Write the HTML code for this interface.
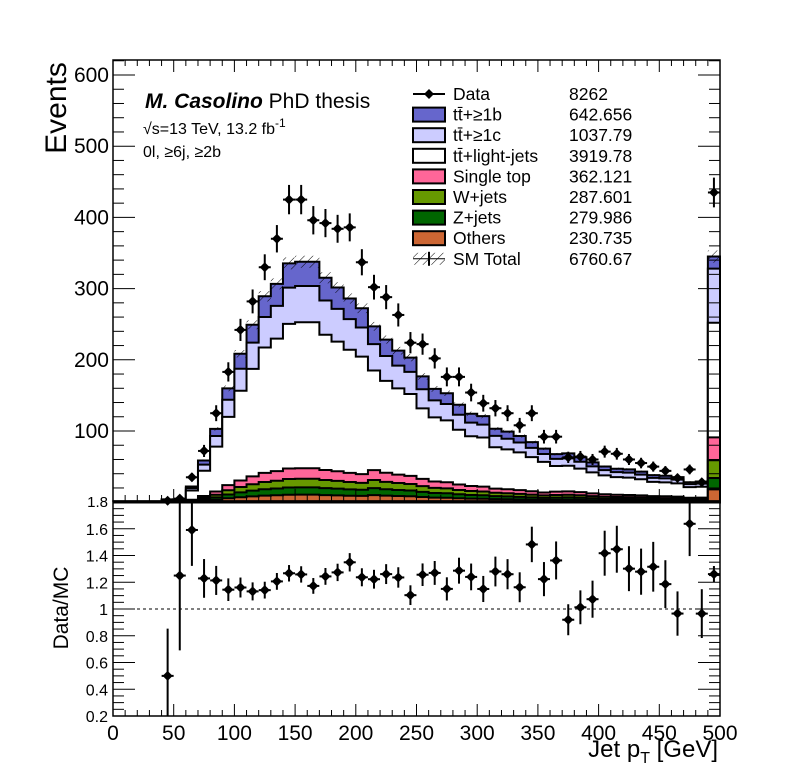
<!DOCTYPE html>
<html><head><meta charset="utf-8">
<style>
html,body{margin:0;padding:0;background:#fff;}
svg{display:block;font-family:"Liberation Sans",sans-serif;}
</style></head>
<body>
<svg id="c" width="796" height="772" viewBox="0 0 796 772">
<defs>
<pattern id="hatch" patternUnits="userSpaceOnUse" width="6" height="6" patternTransform="rotate(45)">
<line x1="0" y1="0" x2="0" y2="6" stroke="#000" stroke-width="1"/>
</pattern>
</defs>
<rect x="0" y="0" width="796" height="772" fill="#fff"/>
<g id="main"></g>
<g id="ratio"></g>
<g id="axes"></g>
<text x="145" y="108" font-size="21"><tspan font-weight="bold" font-style="italic">M. Casolino</tspan> PhD thesis</text>
<text x="143" y="134" font-size="16">√s=13 TeV, 13.2 fb<tspan dy="-7" font-size="12">-1</tspan></text>
<text x="143" y="157" font-size="16" dy="0">0l, ≥6j, ≥2b</text>
<text transform="translate(66,108) rotate(-90)" font-size="30" text-anchor="middle">Events</text>
<text transform="translate(68,608) rotate(-90)" font-size="21" text-anchor="middle">Data/MC</text>
<text x="718" y="757" font-size="24" text-anchor="end">Jet p<tspan dy="6" font-size="16">T</tspan><tspan dy="-6"> [GeV]</tspan></text>
<g id="legend"></g>
</svg>
<script>
const binEdgesStart = 0, binWidth = 10;
const dataCounts = [0,0,0,0,2,5,35,72,125,183,242,282,330,370,425,425,396,392,384,386,337,302,288,263,224,222,202,176,176,154,139,132,125,108,125,92,92,63,64,60,71,68,60,55,50,44,34,46,28,435];
const others = [0,0,0,0,0.1,0.1,0.8,2,3.5,5.5,7,8.2,9.2,9.8,10.5,10.6,10.6,10,9.6,9.1,8.8,10,9.2,8.7,8.3,7.3,6.5,6.3,5.6,5.1,4.9,4.3,4.1,3.8,3.4,3.1,3.3,3.4,3.2,2.8,2.5,2.4,2.3,2.2,1.9,1.9,1.7,1.4,1.4,18];
const zjets = [0,0,0,0,0.1,0.1,0.8,2,3.3,5.3,6.8,8,9,9.5,10.2,10.3,10.3,9.8,9.4,8.9,8.6,9.8,9,8.5,8.1,7.2,6.4,6.2,5.5,5,4.8,4.2,4,3.7,3.4,3,3.2,3.3,3.1,2.7,2.4,2.3,2.2,2.1,1.9,1.8,1.7,1.4,1.4,16];
const wjets = [0,0,0,0,0.2,0.2,0.9,2.1,3.7,5.9,7.5,9,10.2,10.9,11.9,12,12,11.3,10.9,10.3,9.8,11.3,10.4,9.7,9.2,8.1,7.2,6.9,6.1,5.6,5.4,4.7,4.5,4.2,3.8,3.4,3.7,3.8,3.5,3.1,2.8,2.6,2.6,2.4,2.1,2.1,2,1.6,1.7,25];
const singleTop = [0,0,0,0,0.2,0.2,1,2.6,4.5,7.2,9.2,11,12.8,13.5,14.8,14.8,14.8,14.1,13.6,12.8,12.2,13.9,12.8,11.9,11.4,10.1,9,8.6,7.6,7,6.8,5.9,5.6,5.2,4.7,4.2,4.6,4.7,4.4,3.8,3.4,3.2,3.1,2.9,2.6,2.5,2.4,1.9,2,32];
const ttLight = [0,0,0,0,2.4,2.4,13,35.4,63,96,126,151,176,186,203,205,205,190,182,173,165,140,129,121,115,99,90,87,77,70,69,58,56,53,48,43,36,36,33,29.5,26.5,24.8,24.4,22.6,20,19.6,18.6,14.8,15.2,161];
const ttC = [0,0,0,0,0.6,0.6,3.3,8.7,15,24,31,37,43,46,51,51,51,48,46,43,41,37,35,32,31,27,24,23,21,19,18,16,15,14,13,11,10,10.4,9.6,8.4,7.5,7,6.9,6.5,5.7,5.5,5.3,4.2,4.4,76];
const ttB = [0,0,0,0,0.4,0.4,2.2,5.8,10,16,21,25,29,31,34,34,34,32,30,29,27,25,23,21,20,18,16,15,14,12.5,12,10,10,9,8,7.5,6.7,6.9,6.4,5.6,5,4.7,4.6,4.3,3.8,3.7,3.5,2.8,2.9,17];
const legendLabels = ["Data","tt̄+≥1b","tt̄+≥1c","tt̄+light-jets","Single top","W+jets","Z+jets","Others","SM Total"];
const legendValues = ["8262","642.656","1037.79","3919.78","362.121","287.601","279.986","230.735","6760.67"];
const mainYTicks = [100,200,300,400,500,600];
const ratioYTicks = [0.2,0.4,0.6,0.8,1,1.2,1.4,1.6];
const xTicks = [0,50,100,150,200,250,300,350,400,450,500];

const NS="http://www.w3.org/2000/svg";
const X0=113,X1=720, MT=60, MB=501, RT=501, RB=716;
const xs = v => X0 + v*(X1-X0)/500;
const ym = v => 502.2 - v*0.712;
const yr = v => 716 - (v-0.2)*133.75;
function mk(tag, attrs, parent){const e=document.createElementNS(NS,tag);for(const k in attrs)e.setAttribute(k,attrs[k]);parent.appendChild(e);return e;}
const main=document.getElementById('main'), ratio=document.getElementById('ratio'), axes=document.getElementById('axes'), legend=document.getElementById('legend');

const comps=[[others,'#cc6633','others'],[zjets,'#006600','z-jets'],[wjets,'#669900','w-jets'],[singleTop,'#ff6699','single-top'],[ttLight,'#ffffff','tt-light'],[ttC,'#ccccff','tt-c'],[ttB,'#6666cc','tt-b']];
const n=dataCounts.length;
const cum=new Array(n).fill(0);
const stackLevels=[];
comps.forEach(c=>{const lo=cum.slice();for(let i=0;i<n;i++)cum[i]+=c[0][i];stackLevels.push([lo,cum.slice(),c]);});
for(let k=stackLevels.length-1;k>=0;k--){
  const [lo,hi,c]=stackLevels[k];
  let d='M'+xs(0)+','+ym(0);
  for(let i=0;i<n;i++){const y=Math.max(ym(hi[i]),MT);d+=' L'+xs(i*binWidth)+','+y+' L'+xs((i+1)*binWidth)+','+y;}
  d+=' L'+xs(500)+','+ym(0)+' Z';
  const p=mk('path',{d:d,fill:c[1],stroke:'#000','stroke-width':2},main);
  
  
}
const total=cum;
for(let i=0;i<n;i++){
  if(total[i]<=0)continue;
  const e=Math.max(total[i]*0.025,1.5);
  const r=mk('rect',{x:xs(i*binWidth),y:ym(total[i]+e),width:xs(binWidth)-xs(0),height:ym(total[i]-e)-ym(total[i]+e),fill:'url(#hatch)'},main);
  
  
}
for(let i=0;i<n;i++){
  const v=dataCounts[i]; if(v<=0)continue;
  const cx=xs((i+0.5)*binWidth), err=Math.sqrt(v);
  const g=mk('g',{},main);
  
  
  mk('line',{x1:cx,x2:cx,y1:ym(v+err),y2:Math.min(ym(v-err),MB),stroke:'#000','stroke-width':2},g);
  mk('line',{x1:cx-6,x2:cx+6,y1:ym(v),y2:ym(v),stroke:'#000','stroke-width':2},g);
  mk('path',{d:`M${cx},${ym(v)-5} L${cx+5},${ym(v)} L${cx},${ym(v)+5} L${cx-5},${ym(v)} Z`,fill:'#000'},g);
}
const ul=mk('line',{x1:X0,x2:X1,y1:yr(1),y2:yr(1),stroke:'#000','stroke-width':1,'stroke-dasharray':'3,3'},ratio);


for(let i=0;i<n;i++){
  const v=dataCounts[i]; if(v<=0||total[i]<=0)continue;
  const r=v/total[i], er=Math.sqrt(v)/total[i], cx=xs((i+0.5)*binWidth);
  const g=mk('g',{},ratio);
  
  
  mk('line',{x1:cx,x2:cx,y1:Math.max(yr(r+er),RT),y2:Math.min(yr(r-er),RB),stroke:'#000','stroke-width':2},g);
  const yy=yr(r);
  if(yy>RT&&yy<RB){
    mk('line',{x1:cx-6,x2:cx+6,y1:yy,y2:yy,stroke:'#000','stroke-width':2},g);
    mk('path',{d:`M${cx},${yy-5} L${cx+5},${yy} L${cx},${yy+5} L${cx-5},${yy} Z`,fill:'#000'},g);
  }
}
mk('rect',{x:X0,y:MT,width:X1-X0,height:MB-MT,fill:'none',stroke:'#000','stroke-width':1.5},axes);
mk('rect',{x:X0,y:RT,width:X1-X0,height:RB-RT,fill:'none',stroke:'#000','stroke-width':1.5},axes);
for(let v=20;v<=620;v+=20){
  const y=ym(v); if(y<MT)break;
  const L=(v%100===0)?22:11;
  mk('line',{x1:X0,x2:X0+L,y1:y,y2:y,stroke:'#000'},axes);
  mk('line',{x1:X1,x2:X1-L,y1:y,y2:y,stroke:'#000'},axes);
}
mainYTicks.forEach(v=>{const t=mk('text',{x:109,y:ym(v)+7,'font-size':21,'text-anchor':'end'},axes);t.textContent=v;});
{const t=mk('text',{x:108,y:507,'font-size':15,'text-anchor':'end'},axes);t.textContent='1.8';}
for(let k=0;k<=32;k++){
  const v=0.2+k*0.05; const y=yr(v); if(y<RT)break;
  const major=(k%4===0);
  const L=major?22:11;
  mk('line',{x1:X0,x2:X0+L,y1:y,y2:y,stroke:'#000'},axes);
  mk('line',{x1:X1,x2:X1-L,y1:y,y2:y,stroke:'#000'},axes);
}
ratioYTicks.forEach(v=>{const t=mk('text',{x:108,y:yr(v)+6,'font-size':16,'text-anchor':'end'},axes);t.textContent=(v===1?'1':v.toFixed(1));});
for(let v=0;v<=500;v+=10){
  const x=xs(v); const major=(v%50===0);
  mk('line',{x1:x,x2:x,y1:RB,y2:RB-(major?12:6),stroke:'#000'},axes);
  mk('line',{x1:x,x2:x,y1:MB,y2:MB-(major?12:6),stroke:'#000'},axes);
  mk('line',{x1:x,x2:x,y1:MT,y2:MT+(major?12:6),stroke:'#000'},axes);
}
xTicks.forEach(v=>{const t=mk('text',{x:xs(v),y:740,'font-size':21,'text-anchor':'middle'},axes);t.textContent=v;});
const legFill=[null,'#6666cc','#ccccff','#ffffff','#ff6699','#669900','#006600','#cc6633','url(#hatch)'];
legendLabels.forEach((lab,i)=>{
  const y=94+i*20.6;
  const g=mk('g',{},legend);
  
  
  if(i===0){
    mk('line',{x1:413,x2:445,y1:y,y2:y,stroke:'#000','stroke-width':2},g);
    mk('path',{d:`M429,${y-5} L434,${y} L429,${y+5} L424,${y} Z`,fill:'#000'},g);
  } else if(i===8){
    mk('rect',{x:413,y:y-6,width:32,height:12,fill:'url(#hatch)'},g);
    mk('line',{x1:413,x2:445,y1:y,y2:y,stroke:'#000','stroke-width':1},g);
    mk('line',{x1:429,x2:429,y1:y-7,y2:y+7,stroke:'#000','stroke-width':2},g);
  } else {
    mk('rect',{x:413,y:y-7,width:32,height:14,fill:legFill[i],stroke:'#000','stroke-width':2},g);
  }
  const t=mk('text',{x:453,y:y+6,'font-size':17.5},g);t.textContent=lab;
  const t2=mk('text',{x:569,y:y+6,'font-size':17.5},g);t2.textContent=legendValues[i];
});
</script>
</body></html>
